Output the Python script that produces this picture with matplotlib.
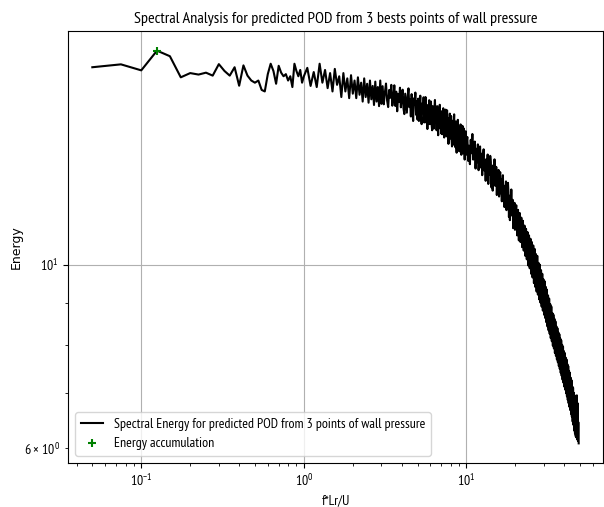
import matplotlib
matplotlib.use("Agg")
import matplotlib.pyplot as plt

# ---------------- data ----------------
freq_low = [0.05, 0.075, 0.1, 0.125, 0.15, 0.175, 0.2, 0.225, 0.25, 0.275,
            0.3, 0.325, 0.35, 0.375, 0.4, 0.425, 0.45, 0.475, 0.5, 0.525,
            0.55, 0.575, 0.6, 0.625, 0.65, 0.675, 0.7, 0.725, 0.75, 0.775,
            0.8, 0.825, 0.85, 0.875, 0.9, 0.925, 0.95, 0.975, 1.0]
energy_low = [17.33, 17.47, 17.18, 18.15, 17.87, 16.85, 17.05, 16.98, 17.07, 16.93,
              17.48, 17.15, 16.93, 17.33, 16.46, 17.42, 16.93, 16.70, 16.60, 16.70,
              16.27, 16.20, 17.00, 17.50, 17.15, 16.55, 17.40, 17.07, 16.90, 17.00,
              16.70, 16.90, 16.40, 17.50, 17.15, 16.90, 17.20, 16.60, 16.90]

freq_mid = [1.05, 1.10, 1.15, 1.20, 1.25, 1.30, 1.35, 1.40, 1.45, 1.50,
            1.55, 1.60, 1.65, 1.70, 1.75, 1.80, 1.85, 1.90, 1.95, 2.00,
            2.05, 2.10, 2.15, 2.20, 2.25, 2.30, 2.35, 2.40, 2.45, 2.50,
            2.55, 2.60, 2.65, 2.70, 2.75, 2.80, 2.85, 2.90, 2.95, 3.00]
energy_mid = [17.30, 16.45, 17.10, 16.40, 17.50, 16.60, 17.20, 16.35, 17.05, 16.20,
              17.25, 16.50, 16.90, 15.95, 17.05, 16.20, 16.80, 15.90, 16.95, 16.10,
              16.70, 15.90, 16.85, 16.05, 16.60, 15.75, 16.80, 15.95, 16.55, 15.70,
              16.70, 15.85, 16.45, 15.60, 16.65, 15.75, 16.40, 15.55, 16.70, 15.65]

freq_hi1 = [3.05, 3.10, 3.15, 3.20, 3.25, 3.30, 3.35, 3.40, 3.45, 3.50,
            3.55, 3.60, 3.65, 3.70, 3.75, 3.80, 3.85, 3.90, 3.95, 4.00,
            4.05, 4.10, 4.15, 4.20, 4.25, 4.30, 4.35, 4.40, 4.45, 4.50,
            4.55, 4.60, 4.65, 4.70, 4.75, 4.80, 4.85, 4.90, 4.95, 5.00,
            5.05, 5.10, 5.15, 5.20, 5.25, 5.30, 5.35, 5.40, 5.45, 5.50,
            5.55, 5.60, 5.65, 5.70, 5.75, 5.80, 5.85, 5.90, 5.95, 6.00,
            6.05, 6.10, 6.15, 6.20, 6.25, 6.30, 6.35, 6.40, 6.45, 6.50,
            6.55, 6.60, 6.65, 6.70, 6.75, 6.80, 6.85, 6.90, 6.95, 7.00,
            7.05, 7.10, 7.15, 7.20, 7.25, 7.30, 7.35, 7.40, 7.45, 7.50,
            7.55, 7.60, 7.65, 7.70, 7.75, 7.80, 7.85, 7.90, 7.95, 8.00,
            8.05, 8.10, 8.15, 8.20, 8.25, 8.30, 8.35, 8.40, 8.45, 8.50,
            8.55, 8.60, 8.65, 8.70, 8.75, 8.80, 8.85, 8.90, 8.95, 9.00,
            9.05, 9.10, 9.15, 9.20, 9.25, 9.30, 9.35, 9.40, 9.45, 9.50,
            9.55, 9.60, 9.65, 9.70, 9.75, 9.80, 9.85, 9.90, 9.95, 10.00]
energy_hi1 = [16.44, 15.63, 16.15, 16.56, 15.80, 15.51, 16.27, 15.92, 16.50, 15.57,
              15.91, 16.48, 15.56, 16.19, 15.33, 16.08, 15.73, 16.37, 15.50, 15.96,
              16.28, 15.45, 15.21, 16.10, 15.69, 15.27, 15.98, 16.34, 15.51, 15.86,
              15.11, 16.08, 15.44, 14.92, 15.89, 15.63, 16.15, 15.18, 15.76, 14.98,
              15.88, 14.92, 15.54, 16.01, 15.13, 14.79, 15.67, 15.26, 15.94, 14.86,
              15.27, 15.95, 14.86, 15.61, 14.59, 15.47, 15.07, 15.81, 14.79, 15.34,
              15.75, 14.81, 14.54, 15.55, 15.08, 14.61, 15.42, 15.82, 14.88, 15.28,
              14.54, 15.55, 14.88, 14.34, 15.35, 15.08, 15.61, 14.61, 15.21, 14.41,
              15.33, 14.38, 14.99, 15.46, 14.59, 14.25, 15.13, 14.72, 15.40, 14.32,
              14.69, 15.37, 14.27, 15.03, 14.00, 14.89, 14.48, 15.23, 14.21, 14.75,
              15.13, 14.17, 13.90, 14.93, 14.45, 13.97, 14.79, 15.20, 14.24, 14.65,
              13.87, 14.90, 14.21, 13.66, 14.70, 14.42, 14.97, 13.94, 14.56, 13.73,
              14.65, 13.71, 14.31, 14.78, 13.91, 13.58, 14.45, 14.05, 14.72, 13.64,
              14.01, 14.62, 13.64, 14.32, 13.40, 14.19, 13.83, 14.50, 13.58, 14.07]

freq_hi2 = [10.125, 10.25, 10.375, 10.5, 10.625, 10.75, 10.875, 11.0,
            11.125, 11.25, 11.375, 11.5, 11.625, 11.75, 11.875, 12.0,
            12.125, 12.25, 12.375, 12.5, 12.625, 12.75, 12.875, 13.0,
            13.125, 13.25, 13.375, 13.5, 13.625, 13.75, 13.875, 14.0,
            14.125, 14.25, 14.375, 14.5, 14.625, 14.75, 14.875, 15.0,
            15.125, 15.25, 15.375, 15.5, 15.625, 15.75, 15.875, 16.0,
            16.125, 16.25, 16.375, 16.5, 16.625, 16.75, 16.875, 17.0,
            17.125, 17.25, 17.375, 17.5, 17.625, 17.75, 17.875, 18.0,
            18.125, 18.25, 18.375, 18.5, 18.625, 18.75, 18.875, 19.0,
            19.125, 19.25, 19.375, 19.5, 19.625, 19.75, 19.875, 20.0]
energy_hi2 = [14.27, 13.35, 13.93, 13.23, 14.16, 13.64, 14.39, 13.40,
              13.64, 14.09, 13.07, 13.81, 13.30, 13.98, 13.01, 13.58,
              13.90, 13.11, 13.62, 12.83, 13.45, 13.79, 13.00, 13.28,
              12.63, 13.42, 12.97, 13.59, 12.52, 13.25, 12.86, 13.54,
              13.30, 12.40, 12.96, 12.29, 13.19, 12.68, 13.41, 12.46,
              12.69, 13.13, 12.14, 12.85, 12.36, 13.02, 12.09, 12.64,
              12.94, 12.20, 12.68, 11.93, 12.52, 12.83, 12.09, 12.36,
              11.74, 12.46, 12.05, 12.61, 11.64, 12.30, 11.95, 12.56,
              12.23, 11.42, 11.93, 11.32, 12.13, 11.67, 12.33, 11.47,
              11.58, 11.98, 11.07, 11.73, 11.27, 11.88, 11.02, 11.53]

freq_hi3 = [20.25, 20.5, 20.75, 21.0, 21.25, 21.5, 21.75, 22.0,
            22.25, 22.5, 22.75, 23.0, 23.25, 23.5, 23.75, 24.0,
            24.25, 24.5, 24.75, 25.0, 25.25, 25.5, 25.75, 26.0,
            26.25, 26.5, 26.75, 27.0, 27.25, 27.5, 27.75, 28.0,
            28.25, 28.5, 28.75, 29.0, 29.25, 29.5, 29.75, 30.0,
            30.25, 30.5, 30.75, 31.0, 31.25, 31.5, 31.75, 32.0,
            32.25, 32.5, 32.75, 33.0, 33.25, 33.5, 33.75, 34.0,
            34.25, 34.5, 34.75, 35.0, 35.25, 35.5, 35.75, 36.0,
            36.25, 36.5, 36.75, 37.0, 37.25, 37.5, 37.75, 38.0,
            38.25, 38.5, 38.75, 39.0, 39.25, 39.5, 39.75, 40.0,
            40.25, 40.5, 40.75, 41.0, 41.25, 41.5, 41.75, 42.0,
            42.25, 42.5, 42.75, 43.0, 43.25, 43.5, 43.75, 44.0,
            44.25, 44.5, 44.75, 45.0, 45.25, 45.5, 45.75, 46.0,
            46.25, 46.5, 46.75, 47.0, 47.25, 47.5, 47.75, 48.0,
            48.25, 48.5, 48.75, 49.0]
energy_hi3 = [11.80, 10.85, 11.65, 10.70, 11.55, 10.65, 11.40, 10.50,
              11.30, 10.40, 11.15, 10.25, 11.05, 10.15, 10.95, 9.98,
              10.85, 9.90, 10.75, 9.75, 10.65, 9.65, 10.55, 9.50,
              10.45, 9.40, 10.30, 9.28, 10.25, 9.20, 10.05, 9.08,
              10.00, 9.00, 9.85, 8.90, 9.75, 8.80, 9.60, 8.70,
              9.55, 8.62, 9.40, 8.52, 9.33, 8.42, 9.18, 8.33,
              9.10, 8.25, 8.96, 8.15, 8.90, 8.08, 8.74, 7.98,
              8.70, 7.92, 8.60, 7.82, 8.54, 7.76, 8.42, 7.68,
              8.38, 7.62, 8.28, 7.54, 8.24, 7.48, 8.14, 7.40,
              8.10, 7.34, 8.00, 7.26, 7.96, 7.20, 7.86, 7.12,
              7.82, 7.06, 7.72, 6.99, 7.68, 6.93, 7.58, 6.86,
              7.54, 6.80, 7.44, 6.73, 7.40, 6.67, 7.30, 6.60,
              7.25, 6.55, 7.12, 6.46, 7.10, 6.40, 7.00, 6.30,
              6.95, 6.25, 6.90, 6.20, 6.85, 6.18, 6.95, 6.15,
              6.80, 6.12, 6.45, 6.08]

peak_freq = [0.125]
peak_energy = [18.15]

title = "Spectral Analysis for predicted POD from 3 bests points of wall pressure"
line_label = "Spectral Energy for predicted POD from 3 points of wall pressure"
marker_label = "Energy accumulation"
x_label = "f*Lr/U"
y_label = "Energy"

freq = freq_low + freq_mid + freq_hi1 + freq_hi2 + freq_hi3
energy = energy_low + energy_mid + energy_hi1 + energy_hi2 + energy_hi3

plt.rcParams["font.family"] = ["PT Sans Narrow", "DejaVu Sans"]

fig = plt.figure(figsize=(6.04, 5.07), dpi=100)
ax = fig.add_axes([68 / 604, 44 / 507, 535 / 604, 432 / 507])
ax.plot(freq, energy, color="black", lw=1.5, label=line_label)
ax.plot(peak_freq, peak_energy, "+", color="green", ms=6, mew=1.5, label=marker_label)
ax.set_xscale("log")
ax.set_yscale("log")
ax.grid(True, which="major", color="#b0b0b0", lw=0.8)
ax.set_title(title, fontsize=11.7)
ax.set_xlabel(x_label)
ax.set_ylabel(y_label, family=["DejaVu Sans"], fontsize=9, labelpad=1)
ax.legend(loc="lower left", handlelength=1.6)
fig.savefig("out.png", dpi=100)
